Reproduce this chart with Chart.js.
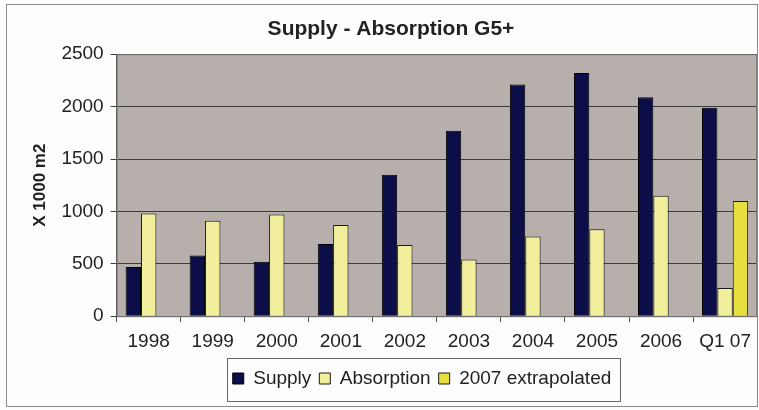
<!DOCTYPE html>
<html>
<head>
<meta charset="utf-8">
<script src="https://cdn.jsdelivr.net/npm/chart.js@4/dist/chart.umd.min.js"></script>
<style>
    html, body { margin: 0; padding: 0; background: #fdfdfd; }
    #wrap { width: 759px; height: 410px; position: relative; }
</style>
</head>
<body>
<div id="wrap"><canvas id="supplyChart" width="759" height="410"></canvas></div>
<script>
// chart data
const categories = ['1998', '1999', '2000', '2001', '2002', '2003', '2004', '2005', '2006', 'Q1 07'];
const supply = [470, 580, 520, 690, 1350, 1770, 2210, 2320, 2090, 1990];
const absorption = [980, 910, 970, 870, 680, 540, 760, 830, 1150, 270];
const extrapolated = [null, null, null, null, null, null, null, null, null, 1100];
const yTicks = [0, 500, 1000, 1500, 2000, 2500];

const fontName = '"Liberation Sans", Arial, sans-serif';

// grey plot background, plot border, legend frame and outer frame
const frames = {
    id: 'frames',
    afterLayout(chart) {
        // the legend sits a bit right of the canvas centre in the original
        const lg = chart.legend;
        const shift = 422 - (lg.left + lg.right) / 2;
        lg.left += shift;
        lg.right += shift;
    },
    beforeDraw(chart) {
        const { ctx, chartArea: a } = chart;
        ctx.save();
        ctx.fillStyle = '#b7afab';
        ctx.fillRect(a.left, a.top, a.right - a.left, a.bottom - a.top);
        ctx.restore();
    },
    afterDraw(chart) {
        const { ctx, chartArea: a } = chart;
        ctx.save();
        ctx.strokeStyle = '#777';
        ctx.lineWidth = 1;
        ctx.strokeRect(a.left + 0.5, a.top + 0.5, a.right - a.left - 1, a.bottom - a.top);
        // legend border from the hit boxes
        const boxes = chart.legend.legendHitBoxes;
        if (boxes && boxes.length) {
            const x0 = Math.min(...boxes.map(b => b.left)) - 6;
            const x1 = Math.max(...boxes.map(b => b.left + b.width)) + 8;
            const cy = boxes[0].top + boxes[0].height / 2;
            ctx.strokeStyle = '#666';
            ctx.strokeRect(Math.round(x0) + 0.5, Math.round(cy - 21) + 0.5, Math.round(x1 - x0), 43);
        }
        ctx.strokeStyle = '#8a8a8a';
        ctx.strokeRect(6.5, 4.5, 751, 402);
        ctx.restore();
    }
};

const ctx = document.getElementById('supplyChart').getContext('2d');
new Chart(ctx, {
    type: 'bar',
    data: {
        labels: categories,
        datasets: [
            {
                label: 'Supply',
                data: supply,
                backgroundColor: '#0b0e48',
                borderColor: '#000',
                borderWidth: 1
            },
            {
                label: 'Absorption',
                data: absorption,
                backgroundColor: '#f1ee9c',
                borderColor: '#1a1a1a',
                borderWidth: 1
            },
            {
                label: '2007 extrapolated',
                data: extrapolated,
                backgroundColor: '#e6df3e',
                borderColor: '#1a1a1a',
                borderWidth: 1
            }
        ]
    },
    options: {
        responsive: false,
        animation: false,
        devicePixelRatio: 1,
        categoryPercentage: 0.72,
        barPercentage: 1.0,
        layout: { padding: { top: 6, left: 24, right: 1, bottom: 12 } },
        plugins: {
            title: {
                display: true,
                text: 'Supply - Absorption G5+',
                color: '#222',
                font: { family: fontName, size: 21, weight: 'bold' },
                padding: { top: 11, bottom: 12 }
            },
            legend: {
                position: 'bottom',
                labels: {
                    color: '#222',
                    font: { family: fontName, size: 19 },
                    boxWidth: 11,
                    boxHeight: 11,
                    padding: 8
                }
            },
            tooltip: { enabled: false }
        },
        scales: {
            x: {
                grid: {
                    offset: true,
                    drawOnChartArea: false,
                    drawTicks: true,
                    tickLength: 6,
                    color: '#555'
                },
                border: { color: '#555' },
                ticks: {
                    color: '#222',
                    font: { family: fontName, size: 19 },
                    padding: 8,
                    maxRotation: 0,
                    autoSkip: false
                }
            },
            y: {
                min: 0,
                max: 2500,
                afterBuildTicks: axis => { axis.ticks = yTicks.map(v => ({ value: v })); },
                grid: { color: '#3c3c3c', tickLength: 6 },
                border: { color: '#555' },
                ticks: {
                    color: '#222',
                    font: { family: fontName, size: 19 },
                    padding: 7,
                    callback: value => String(value)
                },
                title: {
                    display: true,
                    text: 'X 1000 m2',
                    color: '#222',
                    font: { family: fontName, size: 17, weight: 'bold' },
                    padding: { top: 6, bottom: 4 }
                }
            }
        }
    },
    plugins: [frames]
});
</script>
</body>
</html>
